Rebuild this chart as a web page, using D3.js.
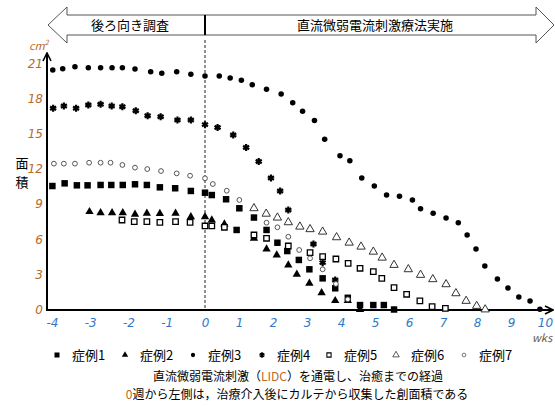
<!DOCTYPE html>
<html lang="ja">
<head>
<meta charset="utf-8" />
<title>直流微弱電流刺激（LIDC）創面積の経過</title>
<script src="https://d3js.org/d3.v7.min.js"></script>
<style>
  body { margin: 0; background: #fff; }
  svg text { font-family: "Noto Sans CJK JP", sans-serif; }
  .tick-y { font-family: "DejaVu Sans", sans-serif; font-style: italic; fill: #b86a2a; font-size: 12px; }
  .tick-x { font-family: "DejaVu Sans", sans-serif; font-style: italic; fill: #2f78c8; font-size: 12px; }
</style>
</head>
<body>
<script>
// ---- data (weeks, wound area cm2) ----
var caseNames = ["症例1", "症例2", "症例3", "症例4", "症例5", "症例6", "症例7"];

var case1 = [[-3.99,10.54],[-3.67,10.77],[-3.35,10.6],[-3.07,10.6],[-2.73,10.63],[-2.45,10.63],[-2.15,10.63],
  [-1.83,10.69],[-1.52,10.63],[-1.18,10.43],[-0.78,10.35],[-0.37,10.12],[0,9.97],[0.2,9.77],[0.62,9.41],
  [0.93,6.79],[1.01,8.64],[1.44,7.85],[1.81,6.79],[2.13,5.7],[2.42,4.99],[2.76,4.23],[3.07,3.43],[3.46,2.66],
  [3.83,1.81],[4.2,1.0],[4.56,0.38],[4.95,0.38],[5.26,0.38],[5.56,0]];

var case2 = [[-3.02,8.35],[-2.73,8.26],[-2.43,8.26],[-2.15,8.26],[-1.83,8.13],[-1.52,8.21],[-1.18,8.18],
  [-0.77,8.21],[-0.37,7.92],[0,7.92],[0.2,7.64],[0.57,7.3],[1.44,6.08],[1.81,5.16],[2.11,4.65],[2.45,3.8],
  [2.7,3.0],[3.07,2.24],[3.43,1.43],[3.83,0.75],[4.2,0.75],[4.56,0]];

var case3 = [[-3.98,20.45],[-3.72,20.56],[-3.4,20.73],[-3.05,20.64],[-2.73,20.64],[-2.43,20.64],[-2.16,20.64],
  [-1.83,20.53],[-1.42,20.3],[-1.13,20.16],[-0.74,20.3],[-0.37,20.08],[0,19.93],[0.42,19.93],[0.74,19.76],
  [1.07,19.57],[1.39,19.19],[1.81,18.8],[2.24,18.4],[2.58,17.65],[2.87,16.92],[3.22,16.13],[3.52,14.54],
  [3.97,13.13],[4.26,12.7],[4.61,11.23],[4.98,10.54],[5.34,9.77],[5.72,9.66],[6.1,9.35],[6.34,8.6],[6.71,8.21],
  [7.09,7.81],[7.45,7.41],[7.71,6.36],[7.97,5.16],[8.23,3.71],[8.6,2.6],[8.91,1.84],[9.23,1.07],[9.56,0.73],[9.85,0.02]];

var case4 = [[-3.97,17.18],[-3.69,17.37],[-3.37,17.18],[-3.05,17.46],[-2.73,17.52],[-2.44,17.37],[-2.16,17.31],
  [-1.81,16.97],[-1.5,16.54],[-1.16,16.46],[-0.72,16.18],[-0.37,16.18],[0,15.78],[0.37,15.54],[0.83,14.9],
  [1.21,13.83],[1.58,12.63],[1.94,11.23],[2.21,10.12],[2.45,8.49],[3.19,5.59],[3.46,4.0],[3.83,2.52]];

var case5 = [[-2.17,7.64],[-1.85,7.5],[-1.52,7.5],[-1.18,7.44],[-0.77,7.5],[-0.39,7.44],[0,7.13],[0.2,7.13],
  [0.57,7.02],[1.44,6.36],[1.81,6.08],[2.45,5.42],[3.09,4.85],[3.46,4.51],[3.85,4.31],[4.21,3.94],[4.56,3.52],
  [4.95,3.23],[5.2,2.66],[5.56,1.86],[5.93,1.3],[6.32,0.73],[6.68,0.24],[7.07,0.1]];

var case6 = [[1.44,8.64],[1.8,8.17],[2.13,7.84],[2.45,7.44],[2.79,7.07],[3.09,6.85],[3.46,6.64],[3.87,6.16],
  [4.24,5.7],[4.59,5.36],[4.95,4.93],[5.21,4.42],[5.56,3.8],[5.98,3.43],[6.34,2.95],[6.7,2.58],[7.09,2.15],
  [7.38,1.38],[7.68,0.73],[7.99,0.3],[8.24,0]];

var case7 = [[-3.95,12.45],[-3.69,12.45],[-3.4,12.45],[-3.03,12.53],[-2.73,12.53],[-2.47,12.53],[-2.16,12.34],
  [-1.83,12.11],[-1.51,11.99],[-1.15,11.82],[-0.74,11.62],[-0.39,11.42],[0,11.2],[0.23,10.71],[0.64,10.14],
  [1.01,9.35],[1.81,7.41],[2.13,7.02],[2.45,6.21],[2.77,5.08],[3.09,4.37],[3.46,3.43],[3.85,2.18],[4.2,0.87]];

var xTicks = [-4,-3,-2,-1,0,1,2,3,4,5,6,7,8,9,10];
var yTicks = [0,3,6,9,12,15,18,21];

var w = 555, h = 406;

var svg = d3.select("body").append("svg")
  .attr("width", w).attr("height", h);

// piecewise: before / after the start of the treatment
var x = d3.scaleLinear().domain([-4, 0, 10]).range([52, 205, 545]);
var y = d3.scaleLinear().domain([0, 21]).range([309.5, 63.5]);

// marker styles per case
var styles = [
  {type: d3.symbolSquare,   size: 42, fill: "#000", stroke: "none", sw: 0},
  {type: d3.symbolTriangle, size: 30, fill: "#000", stroke: "none", sw: 0},
  {type: d3.symbolCircle,   size: 24, fill: "#000", stroke: "none", sw: 0},
  {type: d3.symbolAsterisk, size: 34, fill: "none", stroke: "#000", sw: 2.2},
  {type: d3.symbolSquare,   size: 30, fill: "#fff", stroke: "#000", sw: 1.3},
  {type: d3.symbolTriangle, size: 30, fill: "#fff", stroke: "#333", sw: 1},
  {type: d3.symbolCircle,   size: 18, fill: "#fff", stroke: "#555", sw: 1}
];

// banner arrow
var bTop = 15, bBot = 35, hTop = 7, hBot = 43, bMid = 25;
var bL = 48, bL2 = 67, bR2 = 536, bR = 554;
svg.append("path")
  .attr("d", d3.line()([[bL,bMid],[bL2,hTop],[bL2,bTop],[bR2,bTop],[bR2,hTop],[bR,bMid],
      [bR2,hBot],[bR2,bBot],[bL2,bBot],[bL2,hBot]]) + "Z")
  .attr("fill", "#fff").attr("stroke", "#555").attr("stroke-width", 1);
svg.append("line")
  .attr("x1", x(0)).attr("x2", x(0)).attr("y1", bTop).attr("y2", bBot)
  .attr("stroke", "#000").attr("stroke-width", 2);
svg.append("text").attr("x", 130).attr("y", bMid + 5).attr("text-anchor", "middle")
  .attr("font-size", 13).text("後ろ向き調査");
svg.append("text").attr("x", 375).attr("y", bMid + 5).attr("text-anchor", "middle")
  .attr("font-size", 13).text("直流微弱電流刺激療法実施");

// dashed line at week 0
svg.append("line")
  .attr("x1", x(0)).attr("x2", x(0)).attr("y1", 40).attr("y2", y(0))
  .attr("stroke", "#222").attr("stroke-width", 1).attr("stroke-dasharray", "3,2");

// axes lines with arrows
var defs = svg.append("defs");
defs.append("marker").attr("id", "arr").attr("viewBox", "0 0 10 10")
  .attr("refX", 9).attr("refY", 5).attr("markerWidth", 10).attr("markerHeight", 10)
  .attr("markerUnits", "userSpaceOnUse").attr("orient", "auto")
  .append("path").attr("d", "M1,1 L9,5 L1,9").attr("fill", "none")
  .attr("stroke", "#000").attr("stroke-width", 1.6);

var axY = 310, axX = 47;
svg.append("line").attr("x1", axX).attr("x2", axX).attr("y1", axY + 1).attr("y2", 53)
  .attr("stroke", "#000").attr("stroke-width", 2).attr("marker-end", "url(#arr)");
svg.append("line").attr("x1", axX).attr("x2", 553).attr("y1", axY).attr("y2", axY)
  .attr("stroke", "#000").attr("stroke-width", 2).attr("marker-end", "url(#arr)");

// tick labels through d3 axes (plain hyphen for negatives, like the original)
var plain = function(d){ return String(d); };
var gy = svg.append("g").attr("transform", "translate(" + (axX - 1) + ",0)")
  .call(d3.axisLeft(y).tickValues(yTicks).tickFormat(plain).tickSize(0).tickPadding(3));
gy.select(".domain").remove();
gy.selectAll("text").attr("class", "tick-y").attr("font-family", null).attr("font-size", null);

var gx = svg.append("g").attr("transform", "translate(0," + (axY + 5) + ")")
  .call(d3.axisBottom(x).tickValues(xTicks).tickFormat(plain).tickSize(0).tickPadding(3));
gx.select(".domain").remove();
gx.selectAll("text").attr("class", "tick-x").attr("font-family", null).attr("font-size", null);

// axis titles
var cm = svg.append("text").attr("x", 29).attr("y", 50)
  .attr("font-family", "DejaVu Sans").attr("font-style", "italic")
  .attr("font-size", 11).attr("fill", "#b86a2a").text("cm");
cm.append("tspan").attr("dy", -5).attr("font-size", 7).text("2");
svg.append("text").attr("x", 532).attr("y", 342)
  .attr("font-family", "DejaVu Serif").attr("font-style", "italic")
  .attr("font-size", 11).attr("fill", "#6d5a48").text("wks");
svg.append("text").attr("x", 22).attr("y", 168).attr("text-anchor", "middle")
  .attr("font-size", 13).text("面");
svg.append("text").attr("x", 22).attr("y", 187).attr("text-anchor", "middle")
  .attr("font-size", 13).text("積");

// points
var allCases = [case1, case2, case3, case4, case5, case6, case7];
allCases.forEach(function(data, i){
  var s = styles[i];
  svg.append("g").selectAll("path")
    .data(data).enter().append("path")
    .attr("transform", function(d){ return "translate(" + x(d[0]) + "," + y(d[1]) + ")"; })
    .attr("d", d3.symbol().type(s.type).size(s.size))
    .attr("fill", s.fill).attr("stroke", s.stroke).attr("stroke-width", s.sw);
});

// legend
var legX = [57, 125, 193, 262, 329, 396, 464];
var leg = svg.append("g").attr("transform", "translate(0,356)");
caseNames.forEach(function(name, i){
  var s = styles[i];
  leg.append("path")
    .attr("transform", "translate(" + legX[i] + ",-1)")
    .attr("d", d3.symbol().type(s.type).size(s.size * 0.6))
    .attr("fill", s.fill).attr("stroke", s.stroke).attr("stroke-width", s.sw * 0.8);
  leg.append("text").attr("x", legX[i] + 15).attr("y", 4)
    .attr("font-size", 13).text(name);
});

// caption
var c1 = svg.append("text").attr("x", 298).attr("y", 381).attr("text-anchor", "middle").attr("font-size", 12);
c1.append("tspan").text("直流微弱電流刺激（");
c1.append("tspan").attr("fill", "#b86a2a").text("LIDC");
c1.append("tspan").text("）を通電し、治癒までの経過");
var c2 = svg.append("text").attr("x", 297).attr("y", 399).attr("text-anchor", "middle").attr("font-size", 12);
c2.append("tspan").attr("fill", "#b86a2a").text("0");
c2.append("tspan").text("週から左側は，治療介入後にカルテから収集した創面積である");
</script>
</body>
</html>
